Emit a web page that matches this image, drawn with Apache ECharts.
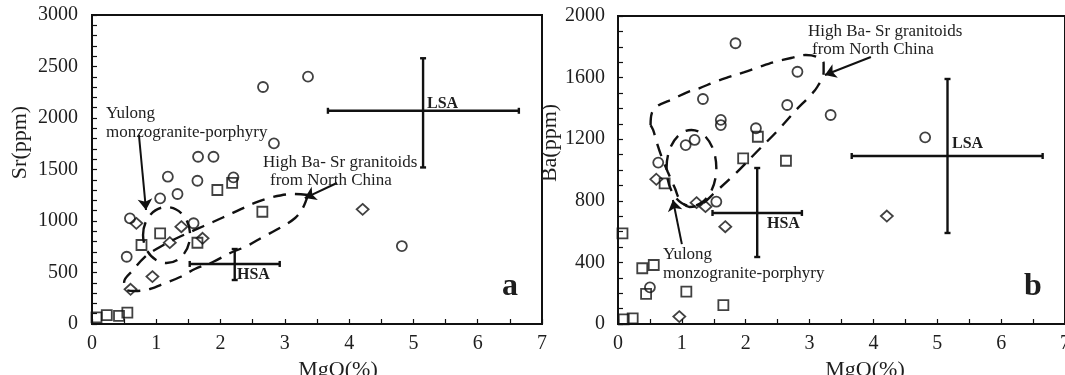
<!DOCTYPE html>
<html>
<head>
<meta charset="utf-8">
<script src="https://cdn.jsdelivr.net/npm/echarts@6/dist/echarts.min.js"></script>
<style>
  html, body { margin: 0; padding: 0; background: #fff; }
  #chart { width: 1065px; height: 375px; }
</style>
</head>
<body>
<div id="chart"></div>
<script>
// ---- Panel a: Sr (ppm) vs MgO (%) ----
const srCircles = [[2.66,2301],[3.36,2401],[1.65,1624],[1.89,1624],[1.18,1430],[1.64,1391],[1.33,1262],
  [1.06,1220],[2.20,1424],[2.83,1754],[0.59,1026],[1.58,978],[0.54,653],[4.82,757]];
const srSquares = [[1.95,1301],[2.18,1370],[2.65,1090],[1.06,880],[0.77,767],[1.64,789],
  [0.07,65],[0.23,87],[0.42,78],[0.55,110]];
const srDiamonds = [[0.69,977],[1.39,945],[1.21,790],[1.72,832],[0.94,460],[0.60,337],[4.21,1113]];

// ---- Panel b: Ba (ppm) vs MgO (%) ----
const baCircles = [[1.84,1823],[1.33,1461],[1.61,1325],[1.61,1292],[2.16,1271],[2.65,1422],[2.81,1638],
  [1.06,1162],[1.20,1195],[0.63,1048],[3.33,1357],[4.81,1212],[1.54,794],[0.50,238]];
const baSquares = [[2.19,1216],[1.96,1076],[2.63,1060],[0.73,913],[0.07,589],[0.38,362],[0.56,383],
  [0.44,195],[1.07,210],[1.65,123],[0.09,30],[0.23,37]];
const baDiamonds = [[0.60,940],[1.23,788],[1.37,762],[1.68,632],[0.96,48],[4.21,701]];

// Reference averages: [MgO mean, MgO low, MgO high, value mean, value low, value high]
const srLSA = [5.15, 3.67, 6.64, 2070, 1520, 2580];
const srHSA = [2.22, 1.52, 2.92, 583, 427, 728];
const baLSA = [5.16, 3.66, 6.65, 1091, 591, 1591];
const baHSA = [2.18, 1.48, 2.88, 721, 435, 1013];

// Field of high Ba-Sr granitoids from North China (outline)
const srField = [[3.36,1252],[3.13,1262],[2.81,1233],[2.53,1175],[2.19,1078],[1.88,990],[1.60,913],
  [1.26,816],[1.03,738],[0.82,650],[0.64,524],[0.50,408],[0.51,340],[0.67,320],[0.90,340],[1.14,398],
  [1.37,456],[1.60,534],[1.88,602],[2.15,689],[2.41,757],[2.66,845],[2.92,932],[3.16,1029],[3.28,1126],[3.36,1252]];
const baField = [[0.51,1292],[0.53,1370],[0.62,1416],[0.86,1461],[1.09,1506],[1.28,1532],[1.51,1571],
  [1.74,1604],[1.98,1636],[2.21,1669],[2.45,1701],[2.71,1727],[2.94,1747],[3.12,1734],[3.22,1695],
  [3.22,1636],[3.12,1539],[2.99,1474],[2.79,1390],[2.48,1247],[2.17,1117],[1.85,981],[1.51,851],
  [1.31,779],[1.12,760],[0.97,805],[0.89,883],[0.78,987],[0.69,1078],[0.61,1175],[0.55,1260],[0.51,1292]];

// Yulong monzogranite-porphyry field: [centre MgO, centre value, half-width MgO, half-height value]
const srYulong = [1.16, 864, 0.366, 272];
const baYulong = [1.15, 1013, 0.39, 247];

// Pointer arrows: [[from], [to]]
const srArrows = [[[0.73,1835],[0.84,1107]], [[3.81,1369],[3.31,1223]]];
const baArrows = [[[1.00,519],[0.86,805]], [[3.96,1734],[3.24,1617]]];

const xTicks = [0, 1, 2, 3, 4, 5, 6, 7];

const SERIF = '"Liberation Serif", "Times New Roman", serif';
const INK = '#111';
const TXT = '#1e1e1e';
const plain = v => String(v);

function axisX(gridIndex, namePad) {
  return {
    gridIndex, type: 'value', min: xTicks[0], max: xTicks[xTicks.length - 1], interval: 1,
    axisLine: { show: true, onZero: false, lineStyle: { color: INK, width: 2 } },
    axisTick: { show: true, inside: true, length: 5, lineStyle: { color: INK, width: 1.2 } },
    minorTick: { show: true, splitNumber: 2, length: 5, lineStyle: { color: INK, width: 1.2 } },
    splitLine: { show: false },
    axisLabel: { fontFamily: SERIF, fontSize: 20, color: TXT, margin: 10, formatter: plain },
    name: 'MgO(%)', nameLocation: 'middle', nameGap: 31,
    nameTextStyle: { fontFamily: SERIF, fontSize: 22, color: TXT, padding: [0, 0, 0, namePad] }
  };
}
function axisY(gridIndex, max, interval, minorSplit, name, gap, margin) {
  return {
    gridIndex, type: 'value', min: 0, max, interval,
    axisLine: { show: true, onZero: false, lineStyle: { color: INK, width: 2 } },
    axisTick: { show: true, inside: true, length: 5, lineStyle: { color: INK, width: 1.2 } },
    minorTick: { show: true, splitNumber: minorSplit, length: 5, lineStyle: { color: INK, width: 1.2 } },
    splitLine: { show: false },
    axisLabel: { fontFamily: SERIF, fontSize: 20, color: TXT, margin, formatter: plain },
    name, nameLocation: 'middle', nameGap: gap,
    nameTextStyle: { fontFamily: SERIF, fontSize: 22, color: TXT, padding: [0, 0, 0, 54] }
  };
}

function markers(data, symbol, size, axis) {
  return {
    type: 'scatter', xAxisIndex: axis, yAxisIndex: axis, data, symbol, symbolSize: size,
    itemStyle: { color: 'rgba(0,0,0,0)', borderColor: INK, borderWidth: 1.8 },
    z: 5, silent: true
  };
}

function fieldOutline(data, axis) {
  return {
    type: 'line', xAxisIndex: axis, yAxisIndex: axis, data, smooth: 0.35,
    showSymbol: false, symbol: 'none',
    lineStyle: { color: INK, width: 2.4, type: [13, 9] }, z: 3, silent: true
  };
}

function renderEllipse(params, api) {
  const c = api.coord([api.value(0), api.value(1)]);
  const s = api.size([api.value(2), api.value(3)]);
  return {
    type: 'ellipse',
    shape: { cx: c[0], cy: c[1], rx: s[0], ry: s[1] },
    style: { fill: 'none', stroke: INK, lineWidth: 2.4, lineDash: [13, 9] }
  };
}
function ellipse(item, axis) {
  return { type: 'custom', xAxisIndex: axis, yAxisIndex: axis, data: [item],
    renderItem: renderEllipse, z: 3, silent: true };
}

function renderCross(params, api) {
  const yc = api.coord([api.value(0), api.value(3)]);
  const xl = api.coord([api.value(1), api.value(3)]);
  const xr = api.coord([api.value(2), api.value(3)]);
  const yb = api.coord([api.value(0), api.value(4)]);
  const yt = api.coord([api.value(0), api.value(5)]);
  const cap = 3;
  const st = { stroke: INK, lineWidth: 2.4 };
  const seg = (x1, y1, x2, y2) => ({ type: 'line', shape: { x1, y1, x2, y2 }, style: st });
  return {
    type: 'group',
    children: [
      seg(xl[0], yc[1], xr[0], yc[1]),
      seg(xl[0], yc[1] - cap, xl[0], yc[1] + cap),
      seg(xr[0], yc[1] - cap, xr[0], yc[1] + cap),
      seg(yc[0], yt[1], yc[0], yb[1]),
      seg(yc[0] - cap, yt[1], yc[0] + cap, yt[1]),
      seg(yc[0] - cap, yb[1], yc[0] + cap, yb[1])
    ]
  };
}
function cross(item, axis) {
  return { type: 'custom', xAxisIndex: axis, yAxisIndex: axis, data: [item],
    renderItem: renderCross, z: 4, silent: true };
}

function arrows(list, axis) {
  return {
    type: 'lines', coordinateSystem: 'cartesian2d', xAxisIndex: axis, yAxisIndex: axis,
    data: list.map(c => ({ coords: c })),
    symbol: ['none', 'arrow'], symbolSize: 11,
    lineStyle: { color: INK, width: 2, curveness: 0, opacity: 1 }, z: 4, silent: true
  };
}

function label(text, x, y, size, bold) {
  return {
    type: 'text', x, y, silent: true, z: 10,
    style: {
      text, fill: TXT,
      font: (bold ? 'bold ' : '') + size + 'px ' + SERIF,
      textVerticalAlign: 'middle', verticalAlign: 'middle', textAlign: 'left', align: 'left'
    }
  };
}

const chart = echarts.init(document.getElementById('chart'), null, { renderer: 'canvas' });
chart.setOption({
  animation: false,
  backgroundColor: '#fff',
  grid: [
    { left: 92, top: 15, width: 450, height: 309, show: true, borderColor: INK, borderWidth: 2,
      containLabel: false, outerBoundsMode: 'none' },
    { left: 618, top: 16, width: 447, height: 308, show: true, borderColor: INK, borderWidth: 2,
      containLabel: false, outerBoundsMode: 'none' }
  ],
  xAxis: [axisX(0, 42), axisX(1, 47)],
  yAxis: [
    axisY(0, 3000, 500, 5, 'Sr(ppm)', 61, 14),
    axisY(1, 2000, 400, 4, 'Ba(ppm)', 51, 13)
  ],
  series: [
    fieldOutline(srField, 0),
    ellipse(srYulong, 0),
    cross(srLSA, 0),
    cross(srHSA, 0),
    arrows(srArrows, 0),
    markers(srCircles, 'circle', 10, 0),
    markers(srSquares, 'rect', 10, 0),
    markers(srDiamonds, 'diamond', [12, 11], 0),

    fieldOutline(baField, 1),
    ellipse(baYulong, 1),
    cross(baLSA, 1),
    cross(baHSA, 1),
    arrows(baArrows, 1),
    markers(baCircles, 'circle', 10, 1),
    markers(baSquares, 'rect', 10, 1),
    markers(baDiamonds, 'diamond', [12, 11], 1)
  ],
  graphic: [
    label('Yulong', 106, 114, 17),
    label('monzogranite-porphyry', 106, 133, 17),
    label('High Ba- Sr granitoids', 263, 163, 17),
    label('from North China', 270, 181, 17),
    label('LSA', 427, 104, 16, true),
    label('HSA', 237, 275, 16, true),
    label('a', 502, 287, 32, true),

    label('High Ba- Sr granitoids', 808, 32, 17),
    label('from North China', 812, 50, 17),
    label('Yulong', 663, 255, 17),
    label('monzogranite-porphyry', 663, 274, 17),
    label('LSA', 952, 144, 16, true),
    label('HSA', 767, 224, 16, true),
    label('b', 1024, 287, 32, true)
  ]
});
</script>
</body>
</html>
